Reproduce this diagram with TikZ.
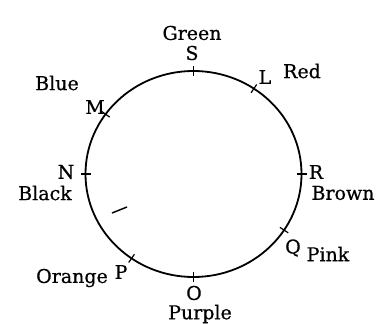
\documentclass[tikz,border=0pt]{standalone}
\usepackage{fontspec}
\setmainfont[FakeBold=0.6]{DejaVu Serif}
\usetikzlibrary{calc}
\begin{document}
\begin{tikzpicture}[x=1pt,y=1pt,
  lbl/.style={inner sep=0pt, font=\fontsize{19}{19}\selectfont},
  ring/.style={line width=1.8pt},
  tick/.style={line width=1.2pt}]
\useasboundingbox (0,0) rectangle (378,324);
\coordinate (c) at (193.5,150);
\draw[ring] (c) ellipse [x radius=108, y radius=103];
% tick marks
\foreach \n/\a in {S/90, L/56, M/144.5, N/180, R/0, Q/-33, P/-125, O/-90}{
  \coordinate (\n-in) at ($(c)+(\a:103 and 98)$);
  \coordinate (\n-out) at ($(c)+(\a:113 and 108)$);
  \draw[tick] (\n-in) -- (\n-out);
}
% stray mark
\coordinate (st1) at (112,111);
\coordinate (st2) at (127,117);
\draw[line width=1.4pt] (st1) -- (st2);
% labels
\node[lbl] (green) at (192,291) {Green};
\node[lbl] (s) at (192,271) {S};
\node[lbl] (l) at (265,247) {L};
\node[lbl] (red) at (302,253) {Red};
\node[lbl] (blue) at (57,241) {Blue};
\node[lbl] (m) at (95,217) {M};
\node[lbl] (n) at (66,152) {N};
\node[lbl] (black) at (45,131) {Black};
\node[lbl] (r) at (316,152) {R};
\node[lbl] (brown) at (343,131) {Brown};
\node[lbl] (q) at (293,76) {Q};
\node[lbl] (pink) at (328,70) {Pink};
\node[lbl] (orange) at (72,46) {Orange};
\node[lbl] (p) at (121,52) {P};
\node[lbl] (o) at (194,31) {O};
\node[lbl] (purple) at (200,10) {Purple};
\end{tikzpicture}
\end{document}
